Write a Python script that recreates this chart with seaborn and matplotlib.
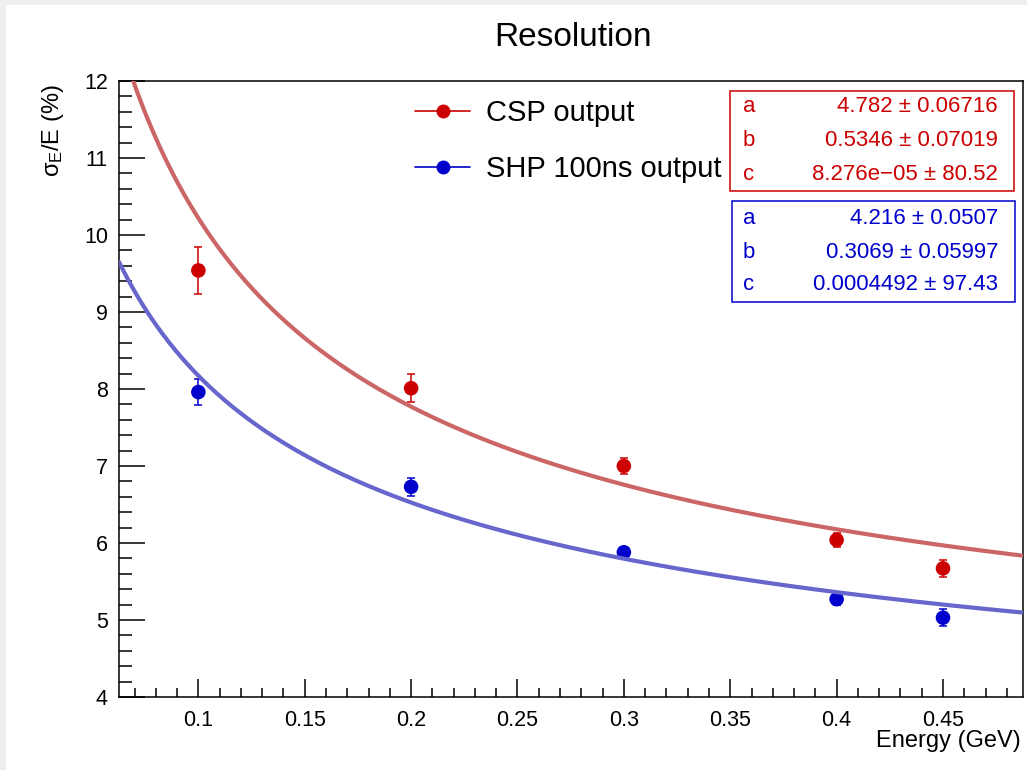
import numpy as np
import pandas as pd
import matplotlib
matplotlib.use("Agg")
import matplotlib.pyplot as plt
from matplotlib.lines import Line2D
from matplotlib.patches import Rectangle
import seaborn as sns

# Beam energies (GeV) and measured resolution sigma_E/E (%)
energy = [0.1, 0.2, 0.3, 0.4, 0.45]
csp_res = [9.54, 8.01, 7.00, 6.04, 5.67]
csp_err = [0.30, 0.18, 0.10, 0.095, 0.11]
shp_res = [7.96, 6.73, 5.88, 5.27, 5.03]
shp_err = [0.17, 0.12, 0.04, 0.08, 0.11]

series_names = ["CSP output", "SHP 100ns output"]

# Fitted resolution curves, shape: scale * E^(-power) + offset
curve_scale = [1.681, 1.778]
curve_power = [0.62, 0.50]
curve_offset = [3.211, 2.550]

# Fit parameter boxes
param_names = ["a", "b", "c"]
csp_params = ["4.782 \u00b1 0.06716", "0.5346 \u00b1 0.07019", "8.276e\u221205 \u00b1 80.52"]
shp_params = ["4.216 \u00b1 0.0507", "0.3069 \u00b1 0.05997", "0.0004492 \u00b1 97.43"]

x_limits = (0.0627, 0.4876)
y_limits = (4, 12)

marker_colors = ["#cc0000", "#0000cc"]
curve_colors = ["#cc6666", "#6666cc"]

sns.set_theme(style="ticks")
plt.rcParams["font.family"] = ["Liberation Sans", "DejaVu Sans"]
plt.rcParams["mathtext.fontset"] = "custom"
plt.rcParams["mathtext.rm"] = "Liberation Sans"
plt.rcParams["mathtext.it"] = "Liberation Sans"
plt.rcParams["text.color"] = "black"
plt.rcParams["axes.labelcolor"] = "black"

W, H = 1027, 770
fig = plt.figure(figsize=(W / 100, H / 100), dpi=100)
fig.patch.set_facecolor("#eeeeee")
fig.patches.append(Rectangle((6 / W, 0), 1, 1 - 5 / H, transform=fig.transFigure,
                             facecolor="white", edgecolor="none", zorder=-10))


def fx(px):
    return px / W


def fy(py):
    return 1 - py / H


ax_left, ax_right, ax_top, ax_bottom = 119, 1023, 81, 697
ax = fig.add_axes([fx(ax_left), fy(ax_bottom), (ax_right - ax_left) / W, (ax_bottom - ax_top) / H])
ax.set_facecolor("white")

# data points with error bars
points = pd.DataFrame({
    "energy": energy * 2,
    "res": csp_res + shp_res,
    "err": csp_err + shp_err,
    "series": [series_names[0]] * len(energy) + [series_names[1]] * len(energy),
})
for name, col in zip(series_names, marker_colors):
    d = points[points["series"] == name]
    ax.errorbar(d["energy"], d["res"], yerr=d["err"], fmt="none", ecolor=col,
                elinewidth=1.1, capsize=2.6, capthick=1.1, zorder=3)
sns.scatterplot(data=points, x="energy", y="res", hue="series", palette=marker_colors,
                s=110, edgecolor="none", legend=False, ax=ax, zorder=4)

# fitted curves
e_grid = np.linspace(x_limits[0], x_limits[1], 400)
curves = []
for name, k, p, c in zip(series_names, curve_scale, curve_power, curve_offset):
    curves.append(pd.DataFrame({"energy": e_grid, "res": k * e_grid ** (-p) + c, "series": name}))
curves = pd.concat(curves)
sns.lineplot(data=curves, x="energy", y="res", hue="series", palette=curve_colors,
             linewidth=3.0, legend=False, ax=ax, zorder=5, sort=False)

ax.set_xlim(*x_limits)
ax.set_ylim(*y_limits)
ax.set_xlabel("")
ax.set_ylabel("")

for s in ax.spines.values():
    s.set_linewidth(1.1)
    s.set_color("black")

ax.xaxis.set_major_locator(matplotlib.ticker.MultipleLocator(0.05))
ax.xaxis.set_minor_locator(matplotlib.ticker.MultipleLocator(0.01))
ax.yaxis.set_major_locator(matplotlib.ticker.MultipleLocator(1))
ax.yaxis.set_minor_locator(matplotlib.ticker.MultipleLocator(0.2))
ax.xaxis.set_major_formatter(matplotlib.ticker.FuncFormatter(lambda v, _: f"{v:g}"))
ax.tick_params(axis="both", which="both", direction="in", width=1.1, colors="black",
               labelsize=15.5, top=False, right=False)
ax.tick_params(axis="x", which="major", length=13, pad=9)
ax.tick_params(axis="x", which="minor", length=6.5)
ax.tick_params(axis="y", which="major", length=19, pad=8)
ax.tick_params(axis="y", which="minor", length=9.5)

# titles and axis labels
fig.text(fx(573), fy(37), "Resolution", ha="center", va="center", fontsize=24)
fig.text(fx(1021), fy(741), "Energy (GeV)", ha="right", va="center", fontsize=17)
fig.text(fx(53), fy(84), r"$\sigma_{E}$/E (%)", rotation=90, ha="center", va="top", fontsize=17)

# legend
handles = [Line2D([0], [0], color=c, marker="o", markersize=9, linewidth=1.2) for c in marker_colors]
fig.legend(handles, series_names, loc="upper left", bbox_to_anchor=(fx(415), fy(99)),
           frameon=False, fontsize=21, handlelength=1.9, handletextpad=0.55,
           labelspacing=0.95, borderpad=0, borderaxespad=0)

# fit parameter boxes
boxes = [((730, 91, 1014, 191), csp_params, marker_colors[0], (106, 141, 174)),
         ((732, 201, 1015, 302), shp_params, marker_colors[1], (218, 253, 284))]
for (x0, y0, x1, y1), vals, col, rows in boxes:
    fig.patches.append(Rectangle((fx(x0), fy(y1)), (x1 - x0) / W, (y1 - y0) / H,
                                 transform=fig.transFigure, facecolor="white",
                                 edgecolor=col, linewidth=1.1, zorder=5))
    for nm, v, ry in zip(param_names, vals, rows):
        fig.text(fx(743), fy(ry), nm, ha="left", va="center", fontsize=16, color=col, zorder=6)
        fig.text(fx(998), fy(ry), v, ha="right", va="center", fontsize=16, color=col, zorder=6)

fig.savefig("out.png", dpi=100, facecolor=fig.get_facecolor())
